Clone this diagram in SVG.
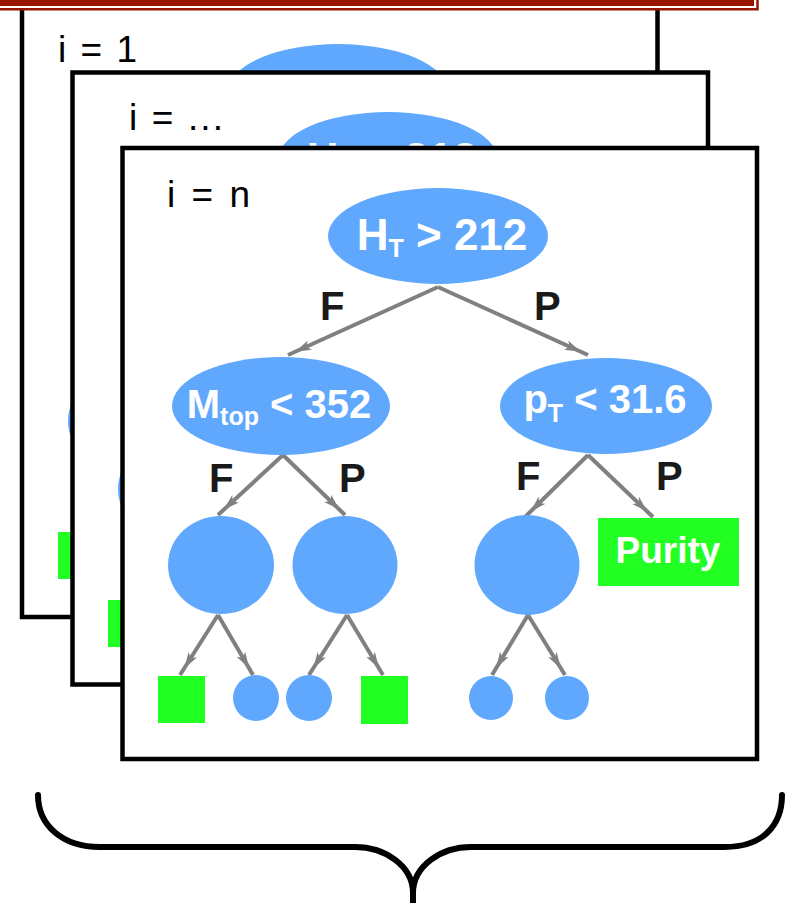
<svg xmlns="http://www.w3.org/2000/svg" xmlns:xlink="http://www.w3.org/1999/xlink" width="794" height="903" viewBox="0 0 794 903">
<style>
  .card { fill: #ffffff; stroke: #000000; stroke-width: 4.5; }
  .node { fill: #5fa8fe; }
  .leaf { fill: #22ff22; }
  .edge { stroke: #808080; stroke-width: 4; fill: none; marker-end: url(#arr); }
  .ntext { font-family: "Liberation Sans", Arial, sans-serif; font-weight: bold; fill: #ffffff; text-anchor: middle; }
  .elabel { font-family: "Liberation Sans", Arial, sans-serif; font-weight: bold; font-size: 40px; fill: #1a1a1a; }
  .idx { font-family: "Liberation Sans", Arial, sans-serif; font-size: 37px; fill: #000000; }
  .brace { fill: none; stroke: #000000; stroke-width: 6; stroke-linecap: round; }
</style>
<defs>
  <marker id="arr" markerUnits="userSpaceOnUse" markerWidth="40" markerHeight="12" refX="24" refY="5" orient="auto">
    <path d="M0,0 L16,5 L0,10 L4,5 z" fill="#808080"/>
  </marker>
  <g id="treeShapes">
    <ellipse class="node" cx="438" cy="236" rx="110" ry="48"/>
    <ellipse class="node" cx="281" cy="406" rx="109" ry="49"/>
    <ellipse class="node" cx="606" cy="406" rx="106" ry="48"/>
    <ellipse class="node" cx="221" cy="565" rx="53" ry="49"/>
    <ellipse class="node" cx="345" cy="565" rx="52.5" ry="49"/>
    <ellipse class="node" cx="527" cy="565" rx="52.5" ry="50"/>
    <rect class="leaf" x="598" y="518" width="141" height="68"/>
    <rect class="leaf" x="158" y="676" width="47" height="47"/>
    <rect class="leaf" x="361" y="676" width="47" height="48"/>
    <circle class="node" cx="256" cy="698" r="23"/>
    <circle class="node" cx="309" cy="698" r="23"/>
    <circle class="node" cx="491" cy="698" r="22"/>
    <circle class="node" cx="567" cy="698" r="22"/>
  </g>
</defs>

<!-- back card i = 1 -->
<g id="card1">
  <rect class="card" x="22" y="2" width="635.5" height="615"/>
  <use xlink:href="#treeShapes" href="#treeShapes" transform="translate(-100,-144)"/>
  <text class="idx" x="58" y="62" textLength="79" lengthAdjust="spacing">i = 1</text>
</g>

<!-- back card i = ... -->
<g id="card2">
  <rect class="card" x="72.5" y="72.5" width="635.5" height="612"/>
  <use xlink:href="#treeShapes" href="#treeShapes" transform="translate(-50,-76)"/>
  <text class="ntext" x="392" y="174" font-size="44">H<tspan font-size="25" dy="7">T</tspan><tspan dy="-7"> &gt; 212</tspan></text>
  <text class="idx" x="129" y="130" textLength="94" lengthAdjust="spacing">i = ...</text>
</g>

<!-- front card i = n -->
<g id="card3">
  <rect class="card" x="122.5" y="148" width="634.5" height="611"/>
  <text class="idx" x="167" y="207" textLength="83" lengthAdjust="spacing">i = n</text>
</g>

<g id="connectors">
  <line class="edge" x1="438" y1="287" x2="288" y2="355"/>
  <line class="edge" x1="438" y1="287" x2="588" y2="355"/>
  <line class="edge" x1="283" y1="455" x2="218" y2="515"/>
  <line class="edge" x1="283" y1="455" x2="345" y2="515"/>
  <line class="edge" x1="588" y1="455" x2="525" y2="517"/>
  <line class="edge" x1="588" y1="455" x2="653" y2="517"/>
  <line class="edge" x1="218" y1="615" x2="180" y2="675"/>
  <line class="edge" x1="218" y1="615" x2="253" y2="675"/>
  <line class="edge" x1="347" y1="615" x2="309" y2="675"/>
  <line class="edge" x1="347" y1="615" x2="383" y2="675"/>
  <line class="edge" x1="528" y1="615" x2="492" y2="675"/>
  <line class="edge" x1="528" y1="615" x2="565" y2="675"/>
  <text class="elabel" x="320" y="320">F</text>
  <text class="elabel" x="534" y="320">P</text>
  <text class="elabel" x="209" y="492">F</text>
  <text class="elabel" x="339" y="492">P</text>
  <text class="elabel" x="516" y="490">F</text>
  <text class="elabel" x="656" y="490">P</text>
</g>

<g id="root">
  <ellipse class="node" cx="438" cy="236" rx="110" ry="48"/>
  <text class="ntext" x="442" y="250" font-size="44">H<tspan font-size="25" dy="7">T</tspan><tspan dy="-7"> &gt; 212</tspan></text>
</g>
<g id="mtop">
  <ellipse class="node" cx="281" cy="406" rx="109" ry="49"/>
  <text class="ntext" x="279" y="418" font-size="40">M<tspan font-size="25" dy="7">top</tspan><tspan dy="-7"> &lt; 352</tspan></text>
</g>
<g id="pt">
  <ellipse class="node" cx="606" cy="406" rx="106" ry="48"/>
  <text class="ntext" x="605" y="413" font-size="40">p<tspan font-size="25" dy="9">T</tspan><tspan dy="-9"> &lt; 31.6</tspan></text>
</g>
<g id="n-ff"><ellipse class="node" cx="221" cy="565" rx="53" ry="49"/></g>
<g id="n-fp"><ellipse class="node" cx="345" cy="565" rx="52.5" ry="49"/></g>
<g id="n-pf"><ellipse class="node" cx="527" cy="565" rx="52.5" ry="50"/></g>
<g id="purity">
  <rect class="leaf" x="598" y="518" width="141" height="68"/>
  <text class="ntext" x="668" y="563" font-size="37">Purity</text>
</g>
<g id="leaf1"><rect class="leaf" x="158" y="676" width="47" height="47"/></g>
<g id="leaf2"><circle class="node" cx="256" cy="698" r="23"/></g>
<g id="leaf3"><circle class="node" cx="309" cy="698" r="23"/></g>
<g id="leaf4"><rect class="leaf" x="361" y="676" width="47" height="48"/></g>
<g id="leaf5"><circle class="node" cx="491" cy="698" r="22"/></g>
<g id="leaf6"><circle class="node" cx="567" cy="698" r="22"/></g>

<!-- brace -->
<path class="brace" d="M38,795 C38,825 62,847 100,847 L355,847 C385,847 413,866 413,893 L413,906 M413,893 C413,866 441,847 471,847 L725,847 C763,847 782,825 782,795"/>

<!-- top red bar -->
<g id="topbar">
  <rect x="-10" y="-10" width="767.5" height="19.25" fill="#ffffff" stroke="#961400" stroke-width="2.5"/>
  <rect x="-10" y="-10" width="764" height="16" fill="#961400"/>
</g>
</svg>
